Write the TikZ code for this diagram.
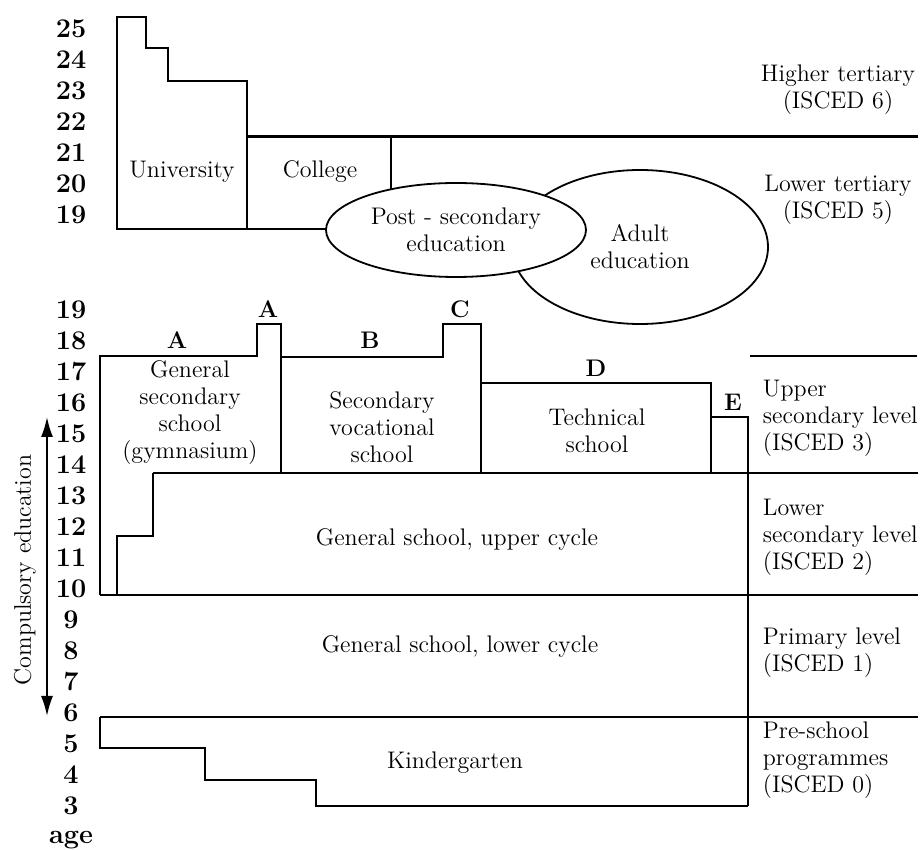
\documentclass[tikz,border=0pt]{standalone}
\usetikzlibrary{shapes.geometric,arrows.meta}
\begin{document}
\begin{tikzpicture}[x=0.5pt,y=-0.5pt,line width=0.9pt,
  num/.style={font=\fontsize{13.5}{15}\selectfont\bfseries},
  txt/.style={font=\fontsize{12}{13.5}\selectfont,align=center},
  side/.style={font=\fontsize{12}{13.5}\selectfont,align=left,anchor=west,inner sep=1pt},
  letter/.style={font=\fontsize{12}{14}\selectfont\bfseries},
  oval/.style={draw,ellipse,fill=white,inner sep=0pt,txt}]
\useasboundingbox (0,0) rectangle (923,850);
\foreach \a in {19,...,25}
  \node[num] (t\a) at (71,{29+31*(25-\a)}) {\a};
\foreach \a in {3,...,19}
  \node[num] (b\a) at (71,{310+31*(19-\a)}) {\a};
\node[num] (age) at (71,840) {age};
\draw (117,229) -- (117,17) -- (146,17) -- (146,48) -- (168,48) -- (168,81) -- (247,81) -- (247,229) -- cycle;
\draw[line width=1.5pt] (247,137) -- (918,137);
\draw (247,229) -- (340,229);
\draw (391,137) -- (391,230);
\node[oval,minimum width=128pt,minimum height=77pt] (adult) at (640,247) {Adult\\education};
\node[oval,minimum width=130pt,minimum height=47pt] (post) at (456,230) {Post - secondary\\education};
\node[txt] (univ) at (182,172) {University};
\node[txt] (coll) at (320,172) {College};
\node[txt] (high) at (838,90) {Higher tertiary\\(ISCED 6)};
\node[txt] (low) at (838,200) {Lower tertiary\\(ISCED 5)};
\draw (100,595) -- (100,356) -- (257,356) -- (257,324) -- (281,324) -- (281,473);
\draw (281,357) -- (443,357) -- (443,324) -- (481,324) -- (481,473);
\draw (481,383) -- (711,383) -- (711,473);
\draw (711,417) -- (748,417) -- (748,806);
\draw (100,595) -- (117,595) -- (117,536) -- (153,536) -- (153,473);
\draw[line width=1.4pt] (153,473) -- (918,473);
\draw (750,356) -- (917,356);
\draw (100,595) -- (918,595);
\draw (100,717) -- (918,717);
\draw (100,717) -- (100,748) -- (205,748) -- (205,780) -- (316,780) -- (316,806) -- (748,806);
\node[letter] (la) at (177,340) {A};
\node[letter] (laa) at (268,309) {A};
\node[letter] (lb) at (370,340) {B};
\node[letter] (lc) at (460,309) {C};
\node[letter] (ld) at (596,368) {D};
\node[letter] (le) at (733,402) {E};
\node[txt] (gym) at (190,413) {General\\secondary\\school\\(gymnasium)};
\node[txt] (voc) at (382,427) {Secondary\\vocational\\school};
\node[txt] (tech) at (597,431) {Technical\\school};
\node[txt] (upc) at (457,540) {General school, upper cycle};
\node[txt] (lwc) at (460,647) {General school, lower cycle};
\node[txt] (kind) at (455,763) {Kindergarten};
\node[side] (isc3) at (760,418) {Upper\\secondary level\\(ISCED 3)};
\node[side] (isc2) at (760,537) {Lower\\secondary level\\(ISCED 2)};
\node[side] (isc1) at (760,653) {Primary level\\(ISCED 1)};
\node[side] (isc0) at (760,760) {Pre-school\\programmes\\(ISCED 0)};
\coordinate (ctop) at (47,417);
\coordinate (cbot) at (47,716);
\draw[{Latex[length=10pt,width=6pt]}-{Latex[length=10pt,width=6pt]}] (ctop) -- (cbot);
\node[txt,rotate=90] (comp) at (25,570) {Compulsory education};
\end{tikzpicture}
\end{document}
